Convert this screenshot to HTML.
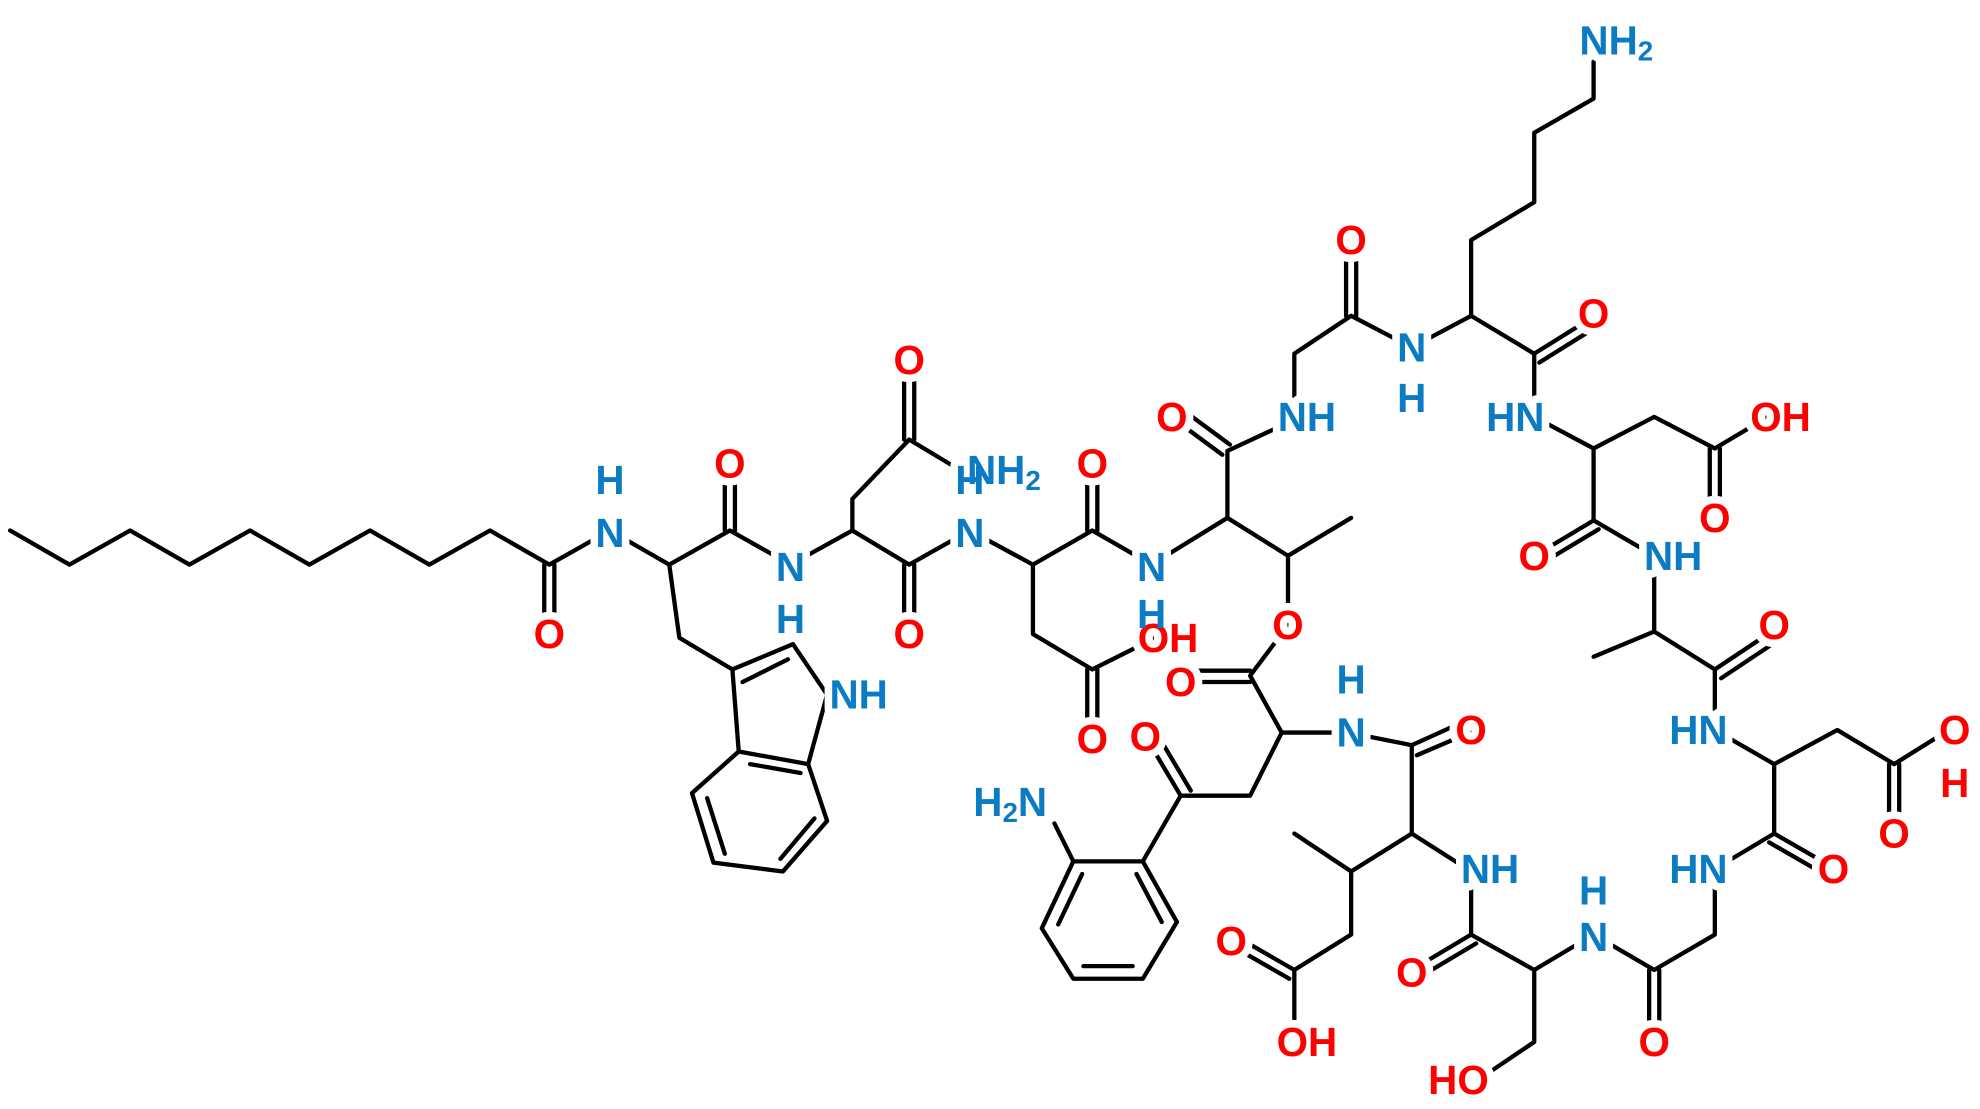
<!DOCTYPE html>
<html><head><meta charset="utf-8"><style>
html,body{margin:0;padding:0;background:#fff;}
svg{display:block}
text{font-family:"Liberation Sans",sans-serif;font-size:32px;font-weight:bold;text-anchor:middle;dominant-baseline:central}
.halo text{fill:#fff;stroke:#fff;stroke-width:12px;stroke-linejoin:round}
.n{fill:#0b7bc3}.o{fill:#f00}
</style></head><body>
<svg width="1980" height="1109" viewBox="0 0 1568 878" xmlns="http://www.w3.org/2000/svg">
<g stroke="#000" stroke-width="3.4" fill="none" stroke-linecap="round" stroke-linejoin="round">
<polyline points="8,420 55,447 103,420 150,447 198,420 245,447 293,420 340,447 388,420 435,447 483,420 530,447 578,420 626,447 675,420 720,447 768,420 818,447 865,420 912,447 972,410 1020,440 1070,410"/>
<line x1="431" y1="447" x2="431" y2="500"/><line x1="439" y1="447" x2="439" y2="500"/>
<line x1="574" y1="420" x2="574" y2="367"/><line x1="582" y1="420" x2="582" y2="367"/>
<line x1="716" y1="447" x2="716" y2="500"/><line x1="724" y1="447" x2="724" y2="500"/>
<line x1="861" y1="420" x2="861" y2="367"/><line x1="869" y1="420" x2="869" y2="367"/>
<polyline points="530,447 538,505 580,530 585,595 640,605 655,550 628,510 580,530"/>
<line x1="588" y1="540" x2="624" y2="522"/>
<polyline points="585,595 548,628 565,683 620,690 655,650 640,605"/>
<line x1="594" y1="605" x2="634" y2="612"/><line x1="560" y1="632" x2="574" y2="676"/><line x1="618" y1="680" x2="645" y2="648"/>
<polyline points="675,420 675,395 720,348 765,375"/>
<line x1="716" y1="348" x2="716" y2="290"/><line x1="724" y1="348" x2="724" y2="290"/>
<polyline points="818,447 818,502 865,530 915,505"/>
<line x1="861" y1="530" x2="861" y2="583"/><line x1="869" y1="530" x2="869" y2="583"/>
<polyline points="972,410 972,357 1030,330"/>
<line x1="968" y1="360" x2="930" y2="332"/><line x1="974" y1="352" x2="936" y2="324"/>
<polyline points="1020,440 1020,495 990,535 1015,580 1068,580 1118,590 1118,660 1070,690 1025,660"/>
<line x1="990" y1="531" x2="940" y2="531"/><line x1="990" y1="540" x2="940" y2="540"/>
<line x1="1118" y1="590" x2="1160" y2="571"/><line x1="1122" y1="598" x2="1164" y2="580"/>
<polyline points="1015,580 990,630 935,630 905,682"/>
<line x1="935" y1="630" x2="910" y2="588"/><line x1="943" y1="626" x2="918" y2="584"/>
<polyline points="905,682 850,682 825,735 850,775 905,775 932,730 905,682"/>
<line x1="850" y1="682" x2="835" y2="652"/>
<line x1="857" y1="692" x2="838" y2="732"/><line x1="858" y1="765" x2="897" y2="765"/><line x1="920" y1="730" x2="900" y2="692"/>
<polyline points="1070,690 1070,740 1025,768 1025,815"/>
<line x1="1025" y1="768" x2="985" y2="745"/><line x1="1021" y1="775" x2="981" y2="752"/>
<polyline points="1118,660 1165,690 1165,740 1215,768 1262,740 1310,768 1358,740 1358,688 1405,660 1405,605 1358,578"/>
<line x1="1165" y1="740" x2="1123" y2="765"/><line x1="1169" y1="747" x2="1127" y2="772"/>
<polyline points="1215,768 1215,825 1178,850"/>
<line x1="1306" y1="768" x2="1306" y2="820"/><line x1="1314" y1="768" x2="1314" y2="820"/>
<line x1="1405" y1="660" x2="1445" y2="683"/><line x1="1401" y1="667" x2="1441" y2="690"/>
<polyline points="1405,605 1455,578 1500,605 1540,580"/>
<line x1="1496" y1="605" x2="1496" y2="655"/><line x1="1504" y1="605" x2="1504" y2="655"/>
<polyline points="1358,578 1358,530 1310,500 1262,520"/>
<line x1="1358" y1="530" x2="1400" y2="502"/><line x1="1363" y1="537" x2="1405" y2="509"/>
<polyline points="1310,500 1310,440 1262,412 1262,355 1215,330 1215,280 1165,250 1118,275 1070,250 1025,280 1025,330"/>
<line x1="1262" y1="412" x2="1222" y2="436"/><line x1="1266" y1="419" x2="1226" y2="443"/>
<polyline points="1262,355 1310,330 1358,355 1400,330"/>
<line x1="1354" y1="355" x2="1354" y2="408"/><line x1="1362" y1="355" x2="1362" y2="408"/>
<line x1="1215" y1="280" x2="1255" y2="255"/><line x1="1219" y1="287" x2="1259" y2="262"/>
<line x1="1066" y1="250" x2="1066" y2="195"/><line x1="1074" y1="250" x2="1074" y2="195"/>
<polyline points="1165,250 1165,190 1215,160 1215,105 1262,78 1262,40"/>
</g>
<g class="halo">
<text x="435" y="502">O</text><text x="483" y="422">N</text><text x="483" y="380">H</text><text x="578" y="367">O</text>
<text x="626" y="449">N</text><text x="626" y="490">H</text><text x="680" y="550">NH</text><text x="720" y="285">O</text>
<text x="795" y="372">NH<tspan font-size="22" dy="8">2</tspan></text><text x="768" y="380">H</text><text x="720" y="502">O</text>
<text x="768" y="422">N</text><text x="865" y="367">O</text><text x="865" y="585">O</text><text x="925" y="505">OH</text>
<text x="912" y="449">N</text><text x="912" y="486">H</text><text x="928" y="330">O</text><text x="1035" y="330">NH</text>
<text x="1020" y="495">O</text><text x="935" y="540">O</text><text x="907" y="583">O</text><text x="1070" y="580">N</text>
<text x="1070" y="538">H</text><text x="1165" y="578">O</text><text x="800" y="635">H<tspan font-size="22" dy="8">2</tspan><tspan dy="-8">N</tspan></text>
<text x="1180" y="688">NH</text><text x="975" y="745">O</text><text x="1035" y="825">OH</text><text x="1118" y="770">O</text>
<text x="1155" y="855">HO</text><text x="1262" y="742">N</text><text x="1262" y="705">H</text><text x="1310" y="825">O</text>
<text x="1345" y="688">HN</text><text x="1452" y="688">O</text><text x="1500" y="660">O</text><text x="1548" y="578">O</text>
<text x="1548" y="620">H</text><text x="1345" y="578">HN</text><text x="1405" y="495">O</text><text x="1325" y="440">NH</text>
<text x="1215" y="440">O</text><text x="1358" y="410">O</text><text x="1410" y="330">OH</text><text x="1200" y="330">HN</text>
<text x="1262" y="248">O</text><text x="1118" y="275">N</text><text x="1118" y="315">H</text><text x="1070" y="190">O</text>
<text x="1280" y="32">NH<tspan font-size="22" dy="8">2</tspan></text>
</g>
<g>
<text class="o" x="435" y="502">O</text>
<text class="n" x="483" y="422">N</text><text class="n" x="483" y="380">H</text>
<text class="o" x="578" y="367">O</text>
<text class="n" x="626" y="449">N</text><text class="n" x="626" y="490">H</text>
<text class="n" x="680" y="550">NH</text>
<text class="o" x="720" y="285">O</text>
<text class="n" x="795" y="372">NH<tspan font-size="22" dy="8">2</tspan></text>
<text class="n" x="768" y="380">H</text>
<text class="o" x="720" y="502">O</text>
<text class="n" x="768" y="422">N</text>
<text class="o" x="865" y="367">O</text>
<text class="o" x="865" y="585">O</text>
<text class="o" x="925" y="505">OH</text>
<text class="n" x="912" y="449">N</text><text class="n" x="912" y="486">H</text>
<text class="o" x="928" y="330">O</text>
<text class="n" x="1035" y="330">NH</text>
<text class="o" x="1020" y="495">O</text>
<text class="o" x="935" y="540">O</text>
<text class="o" x="907" y="583">O</text>
<text class="n" x="1070" y="580">N</text><text class="n" x="1070" y="538">H</text>
<text class="o" x="1165" y="578">O</text>
<text class="n" x="800" y="635">H<tspan font-size="22" dy="8">2</tspan><tspan dy="-8">N</tspan></text>
<text class="n" x="1180" y="688">NH</text>
<text class="o" x="975" y="745">O</text>
<text class="o" x="1035" y="825">OH</text>
<text class="o" x="1118" y="770">O</text>
<text class="o" x="1155" y="855">HO</text>
<text class="n" x="1262" y="742">N</text><text class="n" x="1262" y="705">H</text>
<text class="o" x="1310" y="825">O</text>
<text class="n" x="1345" y="688">HN</text>
<text class="o" x="1452" y="688">O</text>
<text class="o" x="1500" y="660">O</text>
<text class="o" x="1548" y="578">O</text><text class="o" x="1548" y="620">H</text>
<text class="n" x="1345" y="578">HN</text>
<text class="o" x="1405" y="495">O</text>
<text class="n" x="1325" y="440">NH</text>
<text class="o" x="1215" y="440">O</text>
<text class="o" x="1358" y="410">O</text>
<text class="o" x="1410" y="330">OH</text>
<text class="n" x="1200" y="330">HN</text>
<text class="o" x="1262" y="248">O</text>
<text class="n" x="1118" y="275">N</text><text class="n" x="1118" y="315">H</text>
<text class="o" x="1070" y="190">O</text>
<text class="n" x="1280" y="32">NH<tspan font-size="22" dy="8">2</tspan></text>
</g>
</svg>
</body></html>
